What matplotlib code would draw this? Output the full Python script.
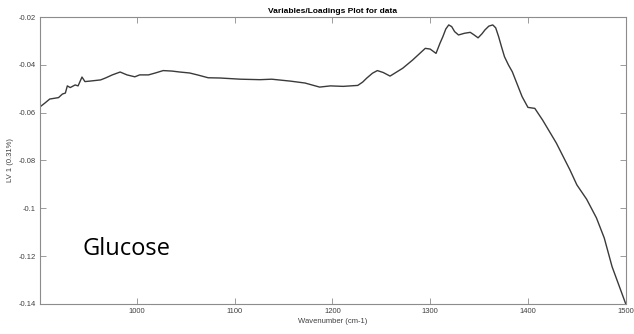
import numpy as np
import matplotlib
matplotlib.use('Agg')
import matplotlib.pyplot as plt
from matplotlib.ticker import FuncFormatter

# wavenumber (cm-1) and LV 1 loading
wavenumber = [901, 906, 911, 920, 924, 927, 929, 932, 937, 940, 944, 947, 952,
              963, 968, 975, 983, 990, 998, 1003, 1012, 1019, 1027, 1036, 1044,
              1054, 1062, 1073, 1085, 1106, 1126, 1138, 1157, 1172, 1187, 1198,
              1211, 1226, 1231, 1235, 1241, 1246, 1252, 1259, 1272, 1282, 1295,
              1300, 1306, 1310, 1313, 1316, 1319, 1322, 1325, 1329, 1335, 1341,
              1345, 1349, 1353, 1356, 1360, 1364, 1367, 1370, 1373, 1376, 1380,
              1384, 1394, 1400, 1407, 1415, 1429, 1443, 1450, 1460, 1470, 1478,
              1486, 1500]
loading = [-0.0576, -0.0560, -0.0543, -0.0537, -0.0522, -0.0518, -0.0488, -0.0495,
           -0.0484, -0.0488, -0.0451, -0.0470, -0.0468, -0.0463, -0.0455, -0.0442,
           -0.0430, -0.0442, -0.0450, -0.0442, -0.0442, -0.0434, -0.0424, -0.0426,
           -0.0430, -0.0434, -0.0442, -0.0454, -0.0455, -0.0460, -0.0462, -0.0460,
           -0.0468, -0.0476, -0.0493, -0.0488, -0.0490, -0.0486, -0.0472, -0.0456,
           -0.0435, -0.0424, -0.0432, -0.0447, -0.0414, -0.0380, -0.0331, -0.0334,
           -0.0352, -0.0310, -0.0282, -0.0250, -0.0233, -0.0240, -0.0261, -0.0275,
           -0.0268, -0.0264, -0.0275, -0.0287, -0.0270, -0.0254, -0.0238, -0.0233,
           -0.0245, -0.0282, -0.0325, -0.0366, -0.0400, -0.0429, -0.0533, -0.0578,
           -0.0582, -0.0631, -0.0727, -0.0840, -0.0902, -0.0962, -0.1040, -0.1124,
           -0.1244, -0.1400]

xticks = [1000, 1100, 1200, 1300, 1400, 1500]
yticks = [-0.14, -0.12, -0.1, -0.08, -0.06, -0.04, -0.02]

plt.rcParams['font.family'] = ['Liberation Sans', 'DejaVu Sans']

fig = plt.figure(figsize=(6.34, 3.34), dpi=100)
ax = fig.add_axes([0.063, 0.09, 0.924, 0.859])

ax.plot(wavenumber, loading, color='#3a3a3a', lw=1.0)

ax.set_xlim(901, 1500)
ax.set_ylim(-0.14, -0.02)
ax.set_xticks(xticks)
ax.set_yticks(yticks)
ax.yaxis.set_major_formatter(FuncFormatter(lambda v, p: '%g' % round(v, 4)))

gray = '#8c8c8c'
for s in ax.spines.values():
    s.set_color(gray)
    s.set_linewidth(0.8)
ax.tick_params(direction='in', length=4, width=0.6, color=gray,
               labelsize=5.5, labelcolor='#404040', top=True, right=True, pad=3)

ax.set_title('Variables/Loadings Plot for data', fontsize=6, fontweight='bold',
             pad=3)
ax.set_xlabel('Wavenumber (cm-1)', fontsize=5.5, color='#404040', labelpad=2)
ax.set_ylabel('LV 1 (0.31%)', fontsize=5.5, color='#404040', labelpad=3)

ax.text(0.072, 0.19, 'Glucose', transform=ax.transAxes, fontsize=17,
        family=['Open Sans', 'DejaVu Sans'], color='black', va='center')

fig.savefig('out.png', dpi=100)
